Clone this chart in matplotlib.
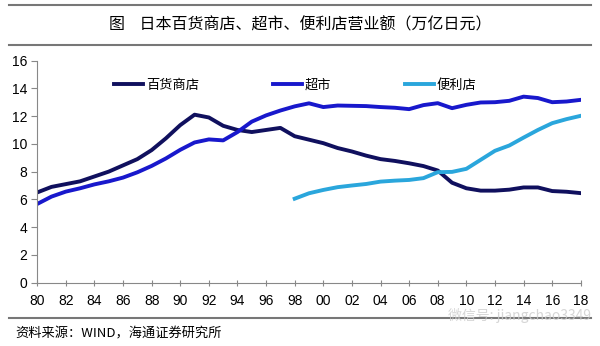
import numpy as np
import matplotlib
matplotlib.use("Agg")
import matplotlib.pyplot as plt

plt.rcParams['font.family'] = ['Liberation Sans', 'Noto Sans CJK SC', 'DejaVu Sans']

years = np.arange(1980, 2019)
# department stores, 1980-2018
dept_store = [6.5, 6.9, 7.1, 7.3, 7.65, 8.0, 8.45, 8.9, 9.55, 10.4,
              11.35, 12.1, 11.9, 11.3, 11.0, 10.85, 11.0, 11.15, 10.55, 10.3,
              10.05, 9.7, 9.45, 9.15, 8.9, 8.77, 8.6, 8.4, 8.08, 7.2,
              6.8, 6.63, 6.63, 6.7, 6.86, 6.86, 6.6, 6.55, 6.45]
# supermarkets, 1980-2018
supermarket = [5.67, 6.2, 6.56, 6.8, 7.08, 7.3, 7.57, 7.95, 8.41, 8.95,
               9.57, 10.1, 10.32, 10.25, 10.85, 11.6, 12.05, 12.4, 12.7, 12.92,
               12.65, 12.76, 12.74, 12.72, 12.65, 12.6, 12.5, 12.79, 12.93, 12.57,
               12.81, 12.98, 13.0, 13.1, 13.4, 13.3, 13.0, 13.05, 13.17]
# convenience stores, 1998-2018
conv_years = np.arange(1998, 2019)
convenience = [6.05, 6.44, 6.68, 6.88, 7.0, 7.11, 7.28, 7.35, 7.4, 7.53,
               7.96, 7.98, 8.2, 8.85, 9.5, 9.88, 10.45, 11.0, 11.49, 11.78, 12.02]

series_names = ['百货商店', '超市', '便利店']
colors = ['#10105e', '#1818cc', '#2aa6dc']
xticks = np.arange(1980, 2019, 2)
xticklabels = [f"{y % 100:02d}" for y in xticks]

fig = plt.figure(figsize=(6, 3.46), dpi=100)
ax = fig.add_axes([0.062, 0.183, 0.906, 0.642])

ax.plot(years, dept_store, color=colors[0], lw=2.8, label=series_names[0])
ax.plot(years, supermarket, color=colors[1], lw=2.8, label=series_names[1])
ax.plot(conv_years, convenience, color=colors[2], lw=2.8, label=series_names[2])

ax.set_xlim(1980, 2018)
ax.set_ylim(0, 16)
ax.set_yticks(np.arange(0, 17, 2))
ax.set_xticks(xticks)
ax.set_xticklabels(xticklabels)
ax.tick_params(axis='both', labelsize=10, color='#888888', length=4)
ax.tick_params(axis='x', direction='inout', pad=6)
ax.tick_params(axis='y', direction='out', pad=3)
for s in ['top', 'right']:
    ax.spines[s].set_visible(False)
for s in ['left', 'bottom']:
    ax.spines[s].set_color('#888888')

leg = ax.legend(ncol=3, loc='upper left', bbox_to_anchor=(0.12, 0.97),
                frameon=False, fontsize=9.5, handlelength=2.2,
                handletextpad=0.2, columnspacing=5.6)

# title and source lines
fig.lines.append(plt.Line2D([0.015, 0.985], [0.985, 0.985], color='#777777', lw=1.5,
                            transform=fig.transFigure))
fig.lines.append(plt.Line2D([0.015, 0.985], [0.87, 0.87], color='#777777', lw=1.5,
                            transform=fig.transFigure))
fig.lines.append(plt.Line2D([0.015, 0.985], [0.08, 0.08], color='#777777', lw=1.5,
                            transform=fig.transFigure))
fig.text(0.5, 0.928, '图    日本百货商店、超市、便利店营业额（万亿日元）',
         ha='center', va='center', fontsize=11.5, family=['Noto Sans CJK SC'])
fig.text(0.025, 0.035, '资料来源：WIND，海通证券研究所', ha='left', va='center',
         fontsize=9.5, family=['Noto Sans CJK SC', 'DejaVu Sans'])
fig.text(0.985, 0.087, '微信号: jiangchao3349', ha='right', va='center',
         fontsize=10, color='#cccccc', alpha=0.8,
         family=['Noto Sans CJK SC', 'DejaVu Sans'])

fig.savefig('out.png', dpi=100)
